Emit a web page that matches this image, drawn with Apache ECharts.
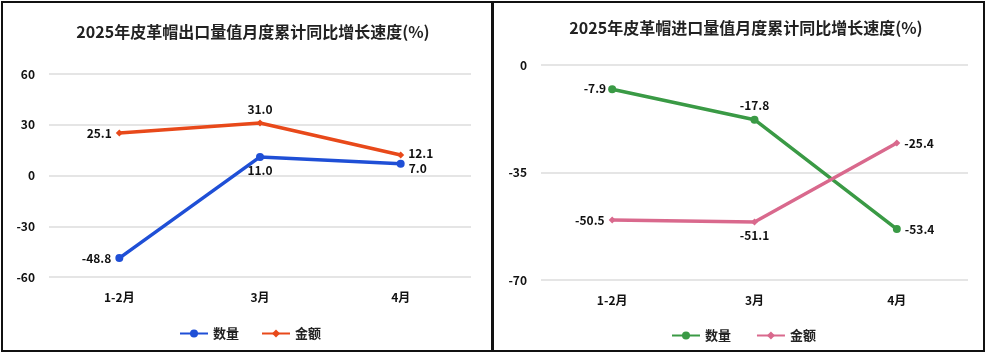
<!DOCTYPE html>
<html><head><meta charset="utf-8">
<script src="https://cdn.jsdelivr.net/npm/echarts@6/dist/echarts.min.js"></script>
<style>html,body{margin:0;padding:0;background:#fff}#c{width:989px;height:357px}</style>
</head><body><div id="c"></div>
<script>
const categories = ['1-2月', '3月', '4月'];
const exportQty = [-48.8, 11.0, 7.0];
const exportVal = [25.1, 31.0, 12.1];
const importQty = [-7.9, -17.8, -53.4];
const importVal = [-50.5, -51.1, -25.4];
const leftTicks = { min: -60, max: 60, interval: 30 };
const rightTicks = { min: -70, max: 0, interval: 35 };
const titles = ['2025年皮革帽出口量值月度累计同比增长速度(%)', '2025年皮革帽进口量值月度累计同比增长速度(%)'];
const seriesNames = ['数量', '金额'];

const FONT = '"Noto Sans CJK SC", "Noto Sans", sans-serif';
const lbl = (pos, off) => ({ show: true, position: pos, offset: off || [0, 0], color: '#111', fontWeight: 'bold', fontSize: 12, fontFamily: FONT, formatter: p => p.value.toFixed(1), distance: 4 });
const withLabels = (vals, positions, offsets) => vals.map((v, i) => ({ value: v, label: lbl(positions[i], offsets && offsets[i]) }));

const chart = echarts.init(document.getElementById('c'), null, { renderer: 'canvas' });
const axisLabel = { color: '#111', fontWeight: 'bold', fontSize: 12, fontFamily: FONT };
const mkSeries = (name, data, color, symbol, size, xi) => ({
  name, type: 'line', xAxisIndex: xi, yAxisIndex: xi, data, symbol, symbolSize: size,
  lineStyle: { color, width: 3.5 }, itemStyle: { color }, label: { show: true }
});
const legendText = { fontSize: 13, fontWeight: 'bold', color: '#222', fontFamily: FONT };
chart.setOption({
  animation: false,
  textStyle: { fontFamily: FONT },
  title: [
    { text: titles[0], left: 248, top: 19, textAlign: 'center', textStyle: { fontSize: 16, fontWeight: 'bold', color: '#222', fontFamily: FONT } },
    { text: titles[1], left: 741, top: 15, textAlign: 'center', textStyle: { fontSize: 16, fontWeight: 'bold', color: '#222', fontFamily: FONT } }
  ],
  legend: [
    { data: [{ name: seriesNames[0] }, { name: seriesNames[1] }], left: 174, top: 322, itemWidth: 28, itemHeight: 10, itemGap: 22, textStyle: legendText },
    { data: [{ name: seriesNames[0] + ' ' }, { name: seriesNames[1] + ' ' }], left: 666, top: 324, itemWidth: 28, itemHeight: 10, itemGap: 22, textStyle: legendText }
  ],
  grid: [
    { left: 49, right: 518, top: 74, bottom: 80 },
    { left: 541, right: 21, top: 65, bottom: 77 }
  ],
  xAxis: [0, 1].map(i => ({ type: 'category', gridIndex: i, data: categories, boundaryGap: true,
    axisLine: { show: false }, axisTick: { show: false }, axisLabel: Object.assign({ margin: 14 }, axisLabel) })),
  yAxis: [
    Object.assign({ type: 'value', gridIndex: 0 }, leftTicks, { axisLabel: Object.assign({ margin: 14 }, axisLabel), splitLine: { lineStyle: { color: '#dcdcdc', width: 1.5 } } }),
    Object.assign({ type: 'value', gridIndex: 1 }, rightTicks, { axisLabel: Object.assign({ margin: 14 }, axisLabel), splitLine: { lineStyle: { color: '#dcdcdc', width: 1.5 } } })
  ],
  series: [
    mkSeries(seriesNames[0], withLabels(exportQty, ['left', 'bottom', 'right'], [null, null, [0, 5]]), '#1f4fd6', 'circle', 8, 0),
    mkSeries(seriesNames[1], withLabels(exportVal, ['left', 'top', 'right'], [null, null, [0, -2]]), '#e8491a', 'diamond', 7, 0),
    mkSeries(seriesNames[0] + ' ', withLabels(importQty, ['left', 'top', 'right'], [[2, -1], null, null]), '#3a9a45', 'circle', 8, 1),
    mkSeries(seriesNames[1] + ' ', withLabels(importVal, ['left', 'bottom', 'right']), '#d9698d', 'diamond', 7, 1)
  ],
  graphic: [
    { type: 'rect', shape: { x: 2, y: 2, width: 490, height: 349 }, style: { fill: 'none', stroke: '#111', lineWidth: 2 }, silent: true },
    { type: 'rect', shape: { x: 493, y: 2, width: 491, height: 349 }, style: { fill: 'none', stroke: '#111', lineWidth: 2 }, silent: true }
  ]
});
</script></body></html>
